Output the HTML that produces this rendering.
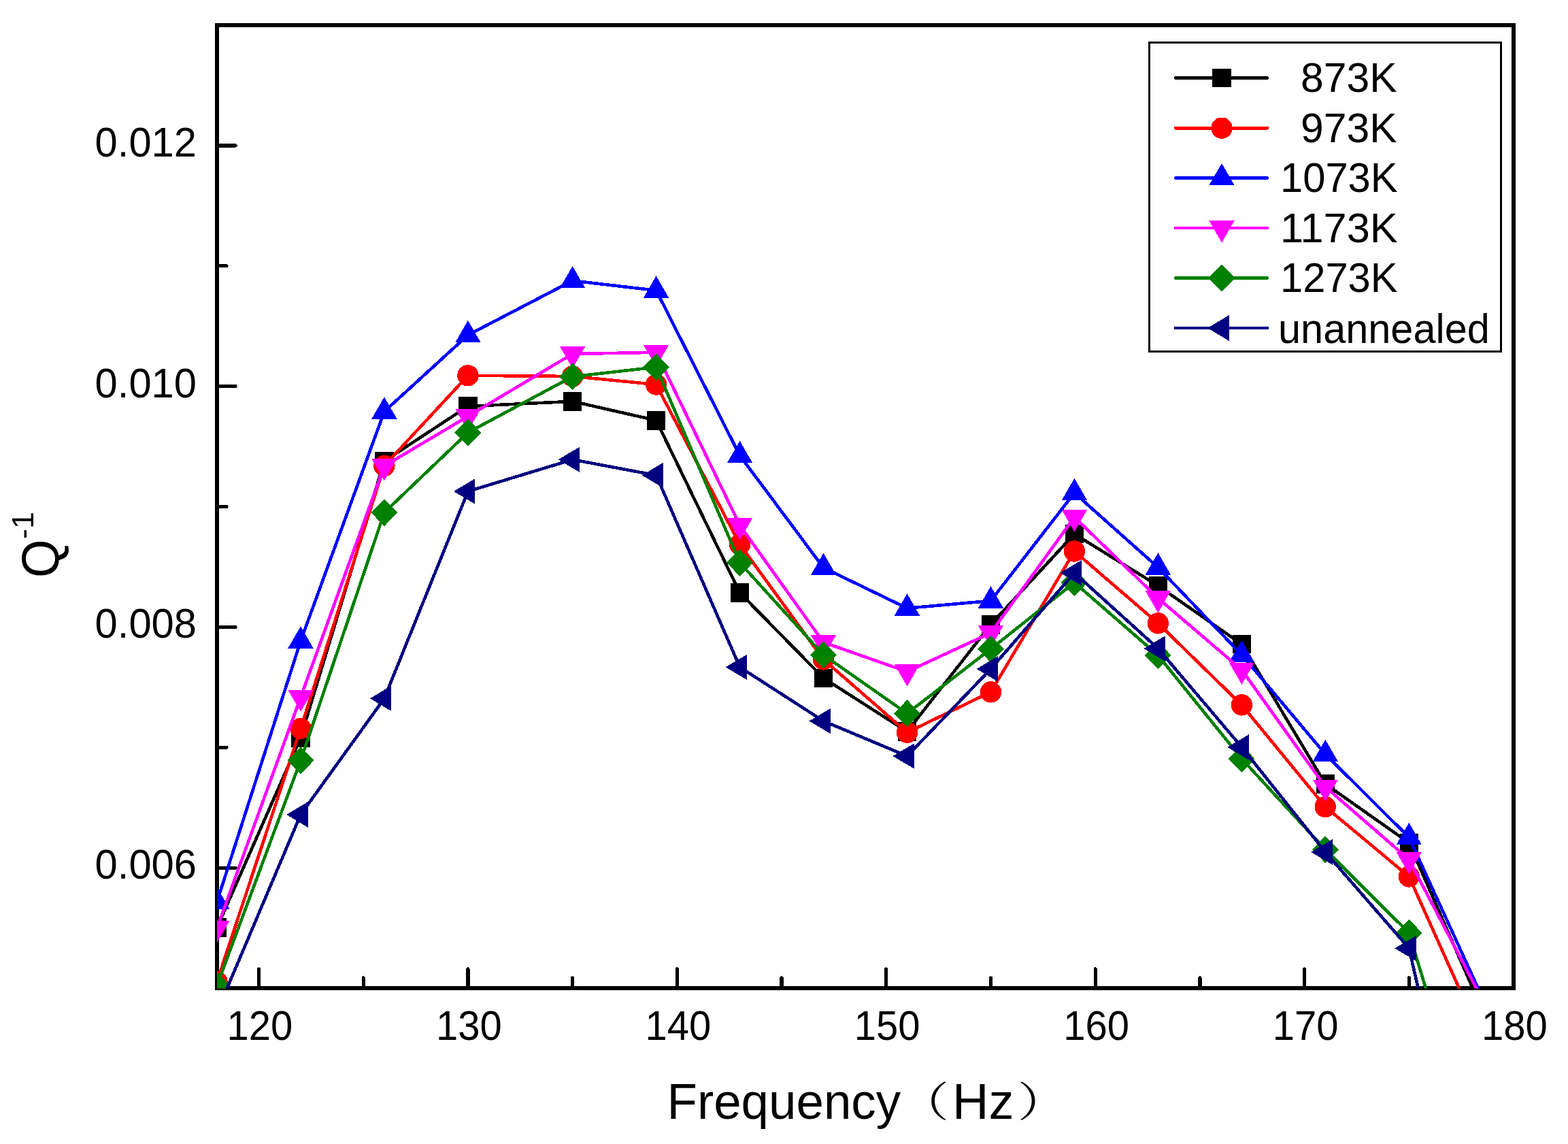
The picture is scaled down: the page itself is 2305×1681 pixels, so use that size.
<!DOCTYPE html>
<html><head><meta charset="utf-8"><title>Q-1 vs Frequency</title>
<style>html,body{margin:0;padding:0;background:#fff;overflow:hidden;}svg{display:block;}</style>
</head><body>
<svg width="2305" height="1681" viewBox="0 0 2305 1681" shape-rendering="crispEdges">
<defs><clipPath id="cp"><rect x="319" y="37" width="1906" height="1415.5"/></clipPath></defs>
<rect width="2305" height="1681" fill="#fff"/>
<rect x="319" y="37" width="1906" height="1415" fill="none" stroke="#000" stroke-width="6"/>
<path d="M380.5,1449V1424 M534.2,1449V1437 M687.9,1449V1424 M841.6,1449V1437 M995.3,1449V1424 M1149.0,1449V1437 M1302.7,1449V1424 M1456.5,1449V1437 M1610.2,1449V1424 M1763.9,1449V1437 M1917.6,1449V1424 M2071.3,1449V1437 M2225.0,1449V1424 M322,1275.1H346 M322,1098.2H333 M322,921.4H346 M322,744.5H333 M322,567.6H346 M322,390.8H333 M322,213.9H346" stroke="#000" stroke-width="5.2" stroke-linecap="round" fill="none"/>
<g font-family="Liberation Sans, Arial, sans-serif" font-size="61" fill="#000">
<text x="382.0" y="1528" text-anchor="middle" textLength="96.8" lengthAdjust="spacingAndGlyphs">120</text>
<text x="689.4" y="1528" text-anchor="middle" textLength="96.8" lengthAdjust="spacingAndGlyphs">130</text>
<text x="996.8" y="1528" text-anchor="middle" textLength="96.8" lengthAdjust="spacingAndGlyphs">140</text>
<text x="1304.2" y="1528" text-anchor="middle" textLength="96.8" lengthAdjust="spacingAndGlyphs">150</text>
<text x="1611.7" y="1528" text-anchor="middle" textLength="96.8" lengthAdjust="spacingAndGlyphs">160</text>
<text x="1919.1" y="1528" text-anchor="middle" textLength="96.8" lengthAdjust="spacingAndGlyphs">170</text>
<text x="2226.5" y="1528" text-anchor="middle" textLength="96.8" lengthAdjust="spacingAndGlyphs">180</text>
<text x="289" y="229.9" text-anchor="end" textLength="149.4" lengthAdjust="spacingAndGlyphs">0.012</text>
<text x="289" y="583.6" text-anchor="end" textLength="149.4" lengthAdjust="spacingAndGlyphs">0.010</text>
<text x="289" y="937.4" text-anchor="end" textLength="149.4" lengthAdjust="spacingAndGlyphs">0.008</text>
<text x="289" y="1291.1" text-anchor="end" textLength="149.4" lengthAdjust="spacingAndGlyphs">0.006</text>
</g>
<g font-family="Liberation Sans, Arial, sans-serif" font-size="74" fill="#000">
<text x="980.5" y="1644" textLength="343.6" lengthAdjust="spacingAndGlyphs">Frequency</text>
<text transform="translate(1320.9,1640.7) scale(1,0.82)" font-family="Liberation Sans, Noto Serif CJK SC, serif">（</text>
<text x="1400.1" y="1644">Hz</text>
<text transform="translate(1495.8,1640.7) scale(1,0.82)" font-family="Liberation Sans, Noto Serif CJK SC, serif">）</text>
<text transform="translate(85.6,849) rotate(-90)" font-size="77" textLength="56.4" lengthAdjust="spacingAndGlyphs">Q</text>
<text transform="translate(49,792) rotate(-90)" font-size="45">-1</text>
</g>
<g clip-path="url(#cp)" shape-rendering="crispEdges">
<path d="M319.0,1363.0 L442.0,1084.0 L564.9,677.6 L687.9,597.0 L841.6,589.8 L964.6,617.7 L1087.6,871.0 L1210.5,996.3 L1333.5,1075.0 L1456.5,917.7 L1579.4,784.6 L1702.4,860.7 L1825.4,946.6 L1948.3,1151.9 L2071.3,1238.5 L2194.3,1519.0" stroke="#000000" stroke-width="4.6" fill="none" stroke-linejoin="round" stroke-linecap="round"/>
<rect x="305.2" y="1349.2" width="27.6" height="27.6" fill="#000000"/>
<rect x="428.2" y="1070.2" width="27.6" height="27.6" fill="#000000"/>
<rect x="551.1" y="663.8" width="27.6" height="27.6" fill="#000000"/>
<rect x="674.1" y="583.2" width="27.6" height="27.6" fill="#000000"/>
<rect x="827.8" y="576.0" width="27.6" height="27.6" fill="#000000"/>
<rect x="950.8" y="603.9" width="27.6" height="27.6" fill="#000000"/>
<rect x="1073.8" y="857.2" width="27.6" height="27.6" fill="#000000"/>
<rect x="1196.7" y="982.5" width="27.6" height="27.6" fill="#000000"/>
<rect x="1319.7" y="1061.2" width="27.6" height="27.6" fill="#000000"/>
<rect x="1442.7" y="903.9" width="27.6" height="27.6" fill="#000000"/>
<rect x="1565.6" y="770.8" width="27.6" height="27.6" fill="#000000"/>
<rect x="1688.6" y="846.9" width="27.6" height="27.6" fill="#000000"/>
<rect x="1811.6" y="932.8" width="27.6" height="27.6" fill="#000000"/>
<rect x="1934.5" y="1138.1" width="27.6" height="27.6" fill="#000000"/>
<rect x="2057.5" y="1224.7" width="27.6" height="27.6" fill="#000000"/>
<rect x="2180.5" y="1505.2" width="27.6" height="27.6" fill="#000000"/>
<path d="M319.0,1442.5 L442.0,1070.5 L564.9,684.4 L687.9,551.8 L841.6,553.0 L964.6,565.0 L1087.6,800.0 L1210.5,969.0 L1333.5,1076.3 L1456.5,1016.8 L1579.4,810.0 L1702.4,915.9 L1825.4,1035.9 L1948.3,1185.5 L2071.3,1288.0 L2194.3,1562.0" stroke="#FF0000" stroke-width="4.6" fill="none" stroke-linejoin="round" stroke-linecap="round"/>
<circle cx="319.0" cy="1442.5" r="15.7" fill="#FF0000"/>
<circle cx="442.0" cy="1070.5" r="15.7" fill="#FF0000"/>
<circle cx="564.9" cy="684.4" r="15.7" fill="#FF0000"/>
<circle cx="687.9" cy="551.8" r="15.7" fill="#FF0000"/>
<circle cx="841.6" cy="553.0" r="15.7" fill="#FF0000"/>
<circle cx="964.6" cy="565.0" r="15.7" fill="#FF0000"/>
<circle cx="1087.6" cy="800.0" r="15.7" fill="#FF0000"/>
<circle cx="1210.5" cy="969.0" r="15.7" fill="#FF0000"/>
<circle cx="1333.5" cy="1076.3" r="15.7" fill="#FF0000"/>
<circle cx="1456.5" cy="1016.8" r="15.7" fill="#FF0000"/>
<circle cx="1579.4" cy="810.0" r="15.7" fill="#FF0000"/>
<circle cx="1702.4" cy="915.9" r="15.7" fill="#FF0000"/>
<circle cx="1825.4" cy="1035.9" r="15.7" fill="#FF0000"/>
<circle cx="1948.3" cy="1185.5" r="15.7" fill="#FF0000"/>
<circle cx="2071.3" cy="1288.0" r="15.7" fill="#FF0000"/>
<circle cx="2194.3" cy="1562.0" r="15.7" fill="#FF0000"/>
<path d="M319.0,1325.0 L442.0,941.8 L564.9,604.8 L687.9,492.3 L841.6,412.5 L964.6,426.8 L1087.6,669.4 L1210.5,834.2 L1333.5,893.7 L1456.5,882.8 L1579.4,724.3 L1702.4,833.8 L1825.4,962.2 L1948.3,1108.3 L2071.3,1230.4 L2194.3,1499.0" stroke="#0000FF" stroke-width="4.6" fill="none" stroke-linejoin="round" stroke-linecap="round"/>
<polygon points="319.0,1303.5 337.6,1335.8 300.4,1335.8" fill="#0000FF"/>
<polygon points="442.0,920.3 460.6,952.5 423.3,952.5" fill="#0000FF"/>
<polygon points="564.9,583.3 583.6,615.5 546.3,615.5" fill="#0000FF"/>
<polygon points="687.9,470.8 706.6,503.1 669.3,503.1" fill="#0000FF"/>
<polygon points="841.6,391.0 860.3,423.2 823.0,423.2" fill="#0000FF"/>
<polygon points="964.6,405.3 983.2,437.6 945.9,437.6" fill="#0000FF"/>
<polygon points="1087.6,647.9 1106.2,680.1 1068.9,680.1" fill="#0000FF"/>
<polygon points="1210.5,812.7 1229.2,845.0 1191.9,845.0" fill="#0000FF"/>
<polygon points="1333.5,872.2 1352.1,904.5 1314.8,904.5" fill="#0000FF"/>
<polygon points="1456.5,861.3 1475.1,893.5 1437.8,893.5" fill="#0000FF"/>
<polygon points="1579.4,702.8 1598.1,735.0 1560.8,735.0" fill="#0000FF"/>
<polygon points="1702.4,812.3 1721.0,844.5 1683.7,844.5" fill="#0000FF"/>
<polygon points="1825.4,940.7 1844.0,973.0 1806.7,973.0" fill="#0000FF"/>
<polygon points="1948.3,1086.8 1967.0,1119.0 1929.7,1119.0" fill="#0000FF"/>
<polygon points="2071.3,1208.9 2089.9,1241.2 2052.6,1241.2" fill="#0000FF"/>
<polygon points="2194.3,1477.5 2212.9,1509.8 2175.6,1509.8" fill="#0000FF"/>
<path d="M319.0,1363.8 L442.0,1024.5 L564.9,684.8 L687.9,611.8 L841.6,520.0 L964.6,517.8 L1087.6,772.0 L1210.5,943.8 L1333.5,987.0 L1456.5,930.0 L1579.4,760.0 L1702.4,879.0 L1825.4,984.3 L1948.3,1156.2 L2071.3,1263.0 L2194.3,1498.0" stroke="#FF00FF" stroke-width="4.6" fill="none" stroke-linejoin="round" stroke-linecap="round"/>
<polygon points="319.0,1385.3 337.6,1353.0 300.4,1353.0" fill="#FF00FF"/>
<polygon points="442.0,1046.0 460.6,1013.8 423.3,1013.8" fill="#FF00FF"/>
<polygon points="564.9,706.3 583.6,674.0 546.3,674.0" fill="#FF00FF"/>
<polygon points="687.9,633.3 706.6,601.0 669.3,601.0" fill="#FF00FF"/>
<polygon points="841.6,541.5 860.3,509.2 823.0,509.2" fill="#FF00FF"/>
<polygon points="964.6,539.3 983.2,507.0 945.9,507.0" fill="#FF00FF"/>
<polygon points="1087.6,793.5 1106.2,761.2 1068.9,761.2" fill="#FF00FF"/>
<polygon points="1210.5,965.3 1229.2,933.0 1191.9,933.0" fill="#FF00FF"/>
<polygon points="1333.5,1008.5 1352.1,976.2 1314.8,976.2" fill="#FF00FF"/>
<polygon points="1456.5,951.5 1475.1,919.2 1437.8,919.2" fill="#FF00FF"/>
<polygon points="1579.4,781.5 1598.1,749.2 1560.8,749.2" fill="#FF00FF"/>
<polygon points="1702.4,900.5 1721.0,868.2 1683.7,868.2" fill="#FF00FF"/>
<polygon points="1825.4,1005.8 1844.0,973.5 1806.7,973.5" fill="#FF00FF"/>
<polygon points="1948.3,1177.7 1967.0,1145.5 1929.7,1145.5" fill="#FF00FF"/>
<polygon points="2071.3,1284.5 2089.9,1252.2 2052.6,1252.2" fill="#FF00FF"/>
<polygon points="2194.3,1519.5 2212.9,1487.2 2175.6,1487.2" fill="#FF00FF"/>
<path d="M319.0,1448.0 L442.0,1117.4 L564.9,753.2 L687.9,635.6 L841.6,553.4 L964.6,539.5 L1087.6,826.8 L1210.5,962.4 L1333.5,1048.4 L1456.5,953.6 L1579.4,856.0 L1702.4,963.0 L1825.4,1115.0 L1948.3,1248.4 L2071.3,1371.0 L2194.3,1777.0" stroke="#008000" stroke-width="4.6" fill="none" stroke-linejoin="round" stroke-linecap="round"/>
<polygon points="319.0,1428.0 338.5,1448.0 319.0,1468.0 299.5,1448.0" fill="#008000"/>
<polygon points="442.0,1097.4 461.5,1117.4 442.0,1137.4 422.5,1117.4" fill="#008000"/>
<polygon points="564.9,733.2 584.4,753.2 564.9,773.2 545.4,753.2" fill="#008000"/>
<polygon points="687.9,615.6 707.4,635.6 687.9,655.6 668.4,635.6" fill="#008000"/>
<polygon points="841.6,533.4 861.1,553.4 841.6,573.4 822.1,553.4" fill="#008000"/>
<polygon points="964.6,519.5 984.1,539.5 964.6,559.5 945.1,539.5" fill="#008000"/>
<polygon points="1087.6,806.8 1107.1,826.8 1087.6,846.8 1068.1,826.8" fill="#008000"/>
<polygon points="1210.5,942.4 1230.0,962.4 1210.5,982.4 1191.0,962.4" fill="#008000"/>
<polygon points="1333.5,1028.4 1353.0,1048.4 1333.5,1068.4 1314.0,1048.4" fill="#008000"/>
<polygon points="1456.5,933.6 1476.0,953.6 1456.5,973.6 1437.0,953.6" fill="#008000"/>
<polygon points="1579.4,836.0 1598.9,856.0 1579.4,876.0 1559.9,856.0" fill="#008000"/>
<polygon points="1702.4,943.0 1721.9,963.0 1702.4,983.0 1682.9,963.0" fill="#008000"/>
<polygon points="1825.4,1095.0 1844.9,1115.0 1825.4,1135.0 1805.9,1115.0" fill="#008000"/>
<polygon points="1948.3,1228.4 1967.8,1248.4 1948.3,1268.4 1928.8,1248.4" fill="#008000"/>
<polygon points="2071.3,1351.0 2090.8,1371.0 2071.3,1391.0 2051.8,1371.0" fill="#008000"/>
<polygon points="2194.3,1757.0 2213.8,1777.0 2194.3,1797.0 2174.8,1777.0" fill="#008000"/>
<path d="M319.0,1487.0 L442.0,1197.0 L564.9,1026.3 L687.9,722.0 L841.6,675.3 L964.6,698.4 L1087.6,980.3 L1210.5,1059.5 L1333.5,1111.0 L1456.5,982.9 L1579.4,841.8 L1702.4,953.0 L1825.4,1097.9 L1948.3,1252.0 L2071.3,1393.5 L2194.3,1930.0" stroke="#000080" stroke-width="4.6" fill="none" stroke-linejoin="round" stroke-linecap="round"/>
<polygon points="298.0,1487.0 329.5,1468.3 329.5,1505.7" fill="#000080"/>
<polygon points="421.0,1197.0 452.5,1178.3 452.5,1215.7" fill="#000080"/>
<polygon points="543.9,1026.3 575.4,1007.6 575.4,1045.0" fill="#000080"/>
<polygon points="666.9,722.0 698.4,703.3 698.4,740.7" fill="#000080"/>
<polygon points="820.6,675.3 852.1,656.6 852.1,694.0" fill="#000080"/>
<polygon points="943.6,698.4 975.1,679.7 975.1,717.1" fill="#000080"/>
<polygon points="1066.6,980.3 1098.1,961.6 1098.1,999.0" fill="#000080"/>
<polygon points="1189.5,1059.5 1221.0,1040.8 1221.0,1078.2" fill="#000080"/>
<polygon points="1312.5,1111.0 1344.0,1092.3 1344.0,1129.7" fill="#000080"/>
<polygon points="1435.5,982.9 1467.0,964.2 1467.0,1001.6" fill="#000080"/>
<polygon points="1558.4,841.8 1589.9,823.1 1589.9,860.5" fill="#000080"/>
<polygon points="1681.4,953.0 1712.9,934.3 1712.9,971.7" fill="#000080"/>
<polygon points="1804.4,1097.9 1835.9,1079.2 1835.9,1116.6" fill="#000080"/>
<polygon points="1927.3,1252.0 1958.8,1233.3 1958.8,1270.7" fill="#000080"/>
<polygon points="2050.3,1393.5 2081.8,1374.8 2081.8,1412.2" fill="#000080"/>
<polygon points="2173.3,1930.0 2204.8,1911.3 2204.8,1948.7" fill="#000080"/>
</g>
<rect x="1689.5" y="62.5" width="517" height="454" fill="#fff" stroke="#000" stroke-width="3"/>
<path d="M1728,114.5H1863" stroke="#000000" stroke-width="4.6" stroke-linecap="round"/>
<rect x="1782.2" y="100.7" width="27.6" height="27.6" fill="#000000"/>
<text x="1912.0" y="135.0" font-family="Liberation Sans, Arial, sans-serif" font-size="62" fill="#000" textLength="141.6" lengthAdjust="spacingAndGlyphs">873K</text>
<path d="M1728,188.2H1863" stroke="#FF0000" stroke-width="4.6" stroke-linecap="round"/>
<circle cx="1796.0" cy="188.2" r="15.7" fill="#FF0000"/>
<text x="1912.0" y="208.6" font-family="Liberation Sans, Arial, sans-serif" font-size="62" fill="#000" textLength="141.6" lengthAdjust="spacingAndGlyphs">973K</text>
<path d="M1728,261.5H1863" stroke="#0000FF" stroke-width="4.6" stroke-linecap="round"/>
<polygon points="1796.0,240.0 1814.7,272.2 1777.3,272.2" fill="#0000FF"/>
<text x="1882.0" y="282.2" font-family="Liberation Sans, Arial, sans-serif" font-size="62" fill="#000" textLength="172.6" lengthAdjust="spacingAndGlyphs">1073K</text>
<path d="M1728,335H1863" stroke="#FF00FF" stroke-width="4.6" stroke-linecap="round"/>
<polygon points="1796.0,356.5 1814.7,324.2 1777.3,324.2" fill="#FF00FF"/>
<text x="1882.0" y="355.8" font-family="Liberation Sans, Arial, sans-serif" font-size="62" fill="#000" textLength="172.6" lengthAdjust="spacingAndGlyphs">1173K</text>
<path d="M1728,408.5H1863" stroke="#008000" stroke-width="4.6" stroke-linecap="round"/>
<polygon points="1796.0,388.5 1815.5,408.5 1796.0,428.5 1776.5,408.5" fill="#008000"/>
<text x="1882.0" y="429.4" font-family="Liberation Sans, Arial, sans-serif" font-size="62" fill="#000" textLength="172.6" lengthAdjust="spacingAndGlyphs">1273K</text>
<path d="M1728,482H1863" stroke="#000080" stroke-width="4.6" stroke-linecap="round"/>
<polygon points="1775.0,482.0 1806.5,463.3 1806.5,500.7" fill="#000080"/>
<text x="1879.0" y="503.8" font-family="Liberation Sans, Arial, sans-serif" font-size="62" fill="#000" textLength="310.8" lengthAdjust="spacingAndGlyphs">unannealed</text>
</svg>
</body></html>
